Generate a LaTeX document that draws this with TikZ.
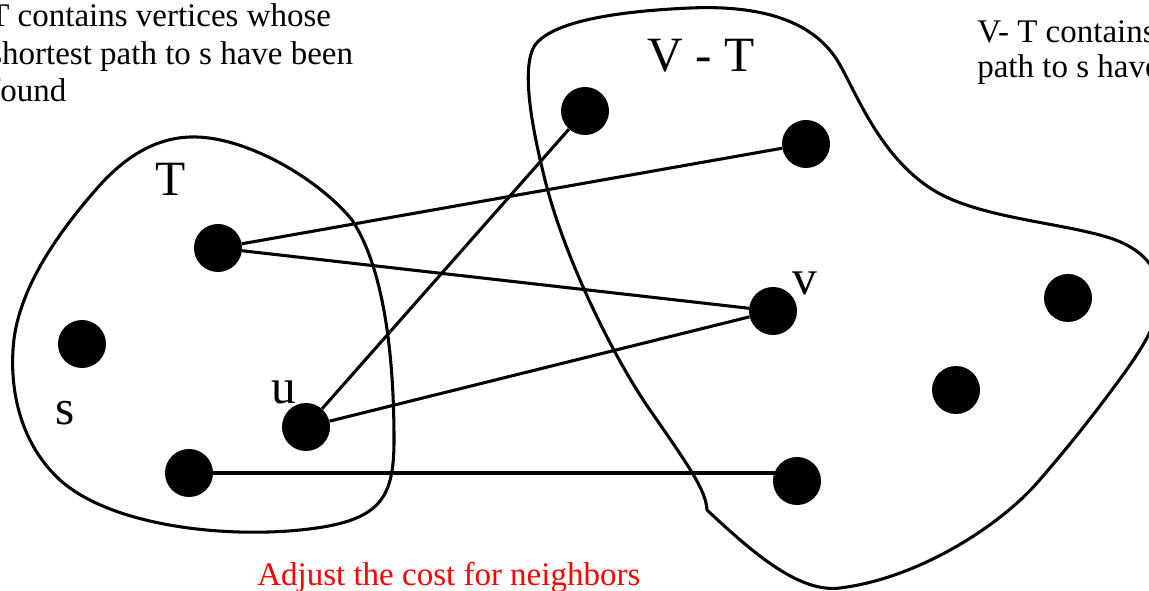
\documentclass[tikz,border=0pt]{standalone}
\usepackage{fontspec}
\setmainfont{Liberation Serif}
\begin{document}
\begin{tikzpicture}[x=0.75pt,y=-0.75pt,
  vertex/.style={circle,fill=black,inner sep=0pt,minimum size=36pt},
  blob/.style={line width=2.3pt,line join=round},
  edge/.style={line width=2.3pt},
  note/.style={font=\fontsize{24.75}{28}\selectfont,inner sep=0pt,anchor=base west},
  biglabel/.style={font=\fontsize{37}{40}\selectfont,inner sep=0pt,anchor=base},
  rednote/.style={note,text=red}]
\useasboundingbox (0,0) rectangle (1149,591);

% set T
\draw[blob] (190,137)
  .. controls (245,135) and (320,180) .. (352,220)
  .. controls (385,270) and (394,360) .. (394,440)
  .. controls (394,500) and (380,522) .. (300,530)
  .. controls (220,538) and (110,525) .. (60,480)
  .. controls (25,448) and (10,400) .. (13,350)
  .. controls (16,290) and (60,230) .. (100,185)
  .. controls (130,152) and (160,138) .. (190,137) -- cycle;

% set V - T
\draw[blob] (707,510)
  .. controls (706,490) and (688,465) .. (650,410)
  .. controls (615,360) and (565,260) .. (545,180)
  .. controls (533,132) and (520,68) .. (535,45)
  .. controls (550,25) and (600,12) .. (690,8)
  .. controls (760,5) and (815,20) .. (840,65)
  .. controls (857,95) and (880,155) .. (930,188)
  .. controls (975,218) and (1060,222) .. (1110,238)
  .. controls (1141,248) and (1160,268) .. (1160,295)
  .. controls (1160,322) and (1140,352) .. (1117,383)
  .. controls (1095,413) and (1070,445) .. (1037,483)
  .. controls (1000,525) and (920,578) .. (840,588)
  .. controls (800,593) and (755,555) .. (707,510) -- cycle;

% vertices
\node[vertex] (t1) at (218,248) {};
\node[vertex] (s)  at (82,344) {};
\node[vertex] (u)  at (306,427) {};
\node[vertex] (t4) at (189,473) {};
\node[vertex] (w1) at (585,111) {};
\node[vertex] (w2) at (806,144) {};
\node[vertex] (v)  at (773,311) {};
\node[vertex] (w4) at (1068,298) {};
\node[vertex] (w5) at (956,390) {};
\node[vertex] (w6) at (797,481) {};

% edges
\draw[edge] (t1) -- (w2);
\draw[edge] (t1) -- (v);
\draw[edge] (u) -- (w1);
\draw[edge] (u) -- (v);
\draw[edge] (t4) -- (t4 -| w6);

% labels
\node[biglabel] (lT)  at (171,196) {T};
\node[biglabel] (lVT) at (701,72) {V - T};
\node[biglabel] (ls)  at (65,424) {s};
\node[biglabel] (lu)  at (284,403) {u};
\node[biglabel] (lv)  at (805,295) {v};

% notes
\node[note] (n1) at (-11,27) {T contains vertices whose};
\node[note] (n2) at (-11,65) {shortest path to s have been};
\node[note] (n3) at (-11,102) {found};
\node[note] (m1) at (977,43) {V- T contains};
\node[note] (m2) at (977,78) {path to s have};
\node[rednote] (r1) at (257,585) {Adjust the cost for neighbors};
\end{tikzpicture}
\end{document}
